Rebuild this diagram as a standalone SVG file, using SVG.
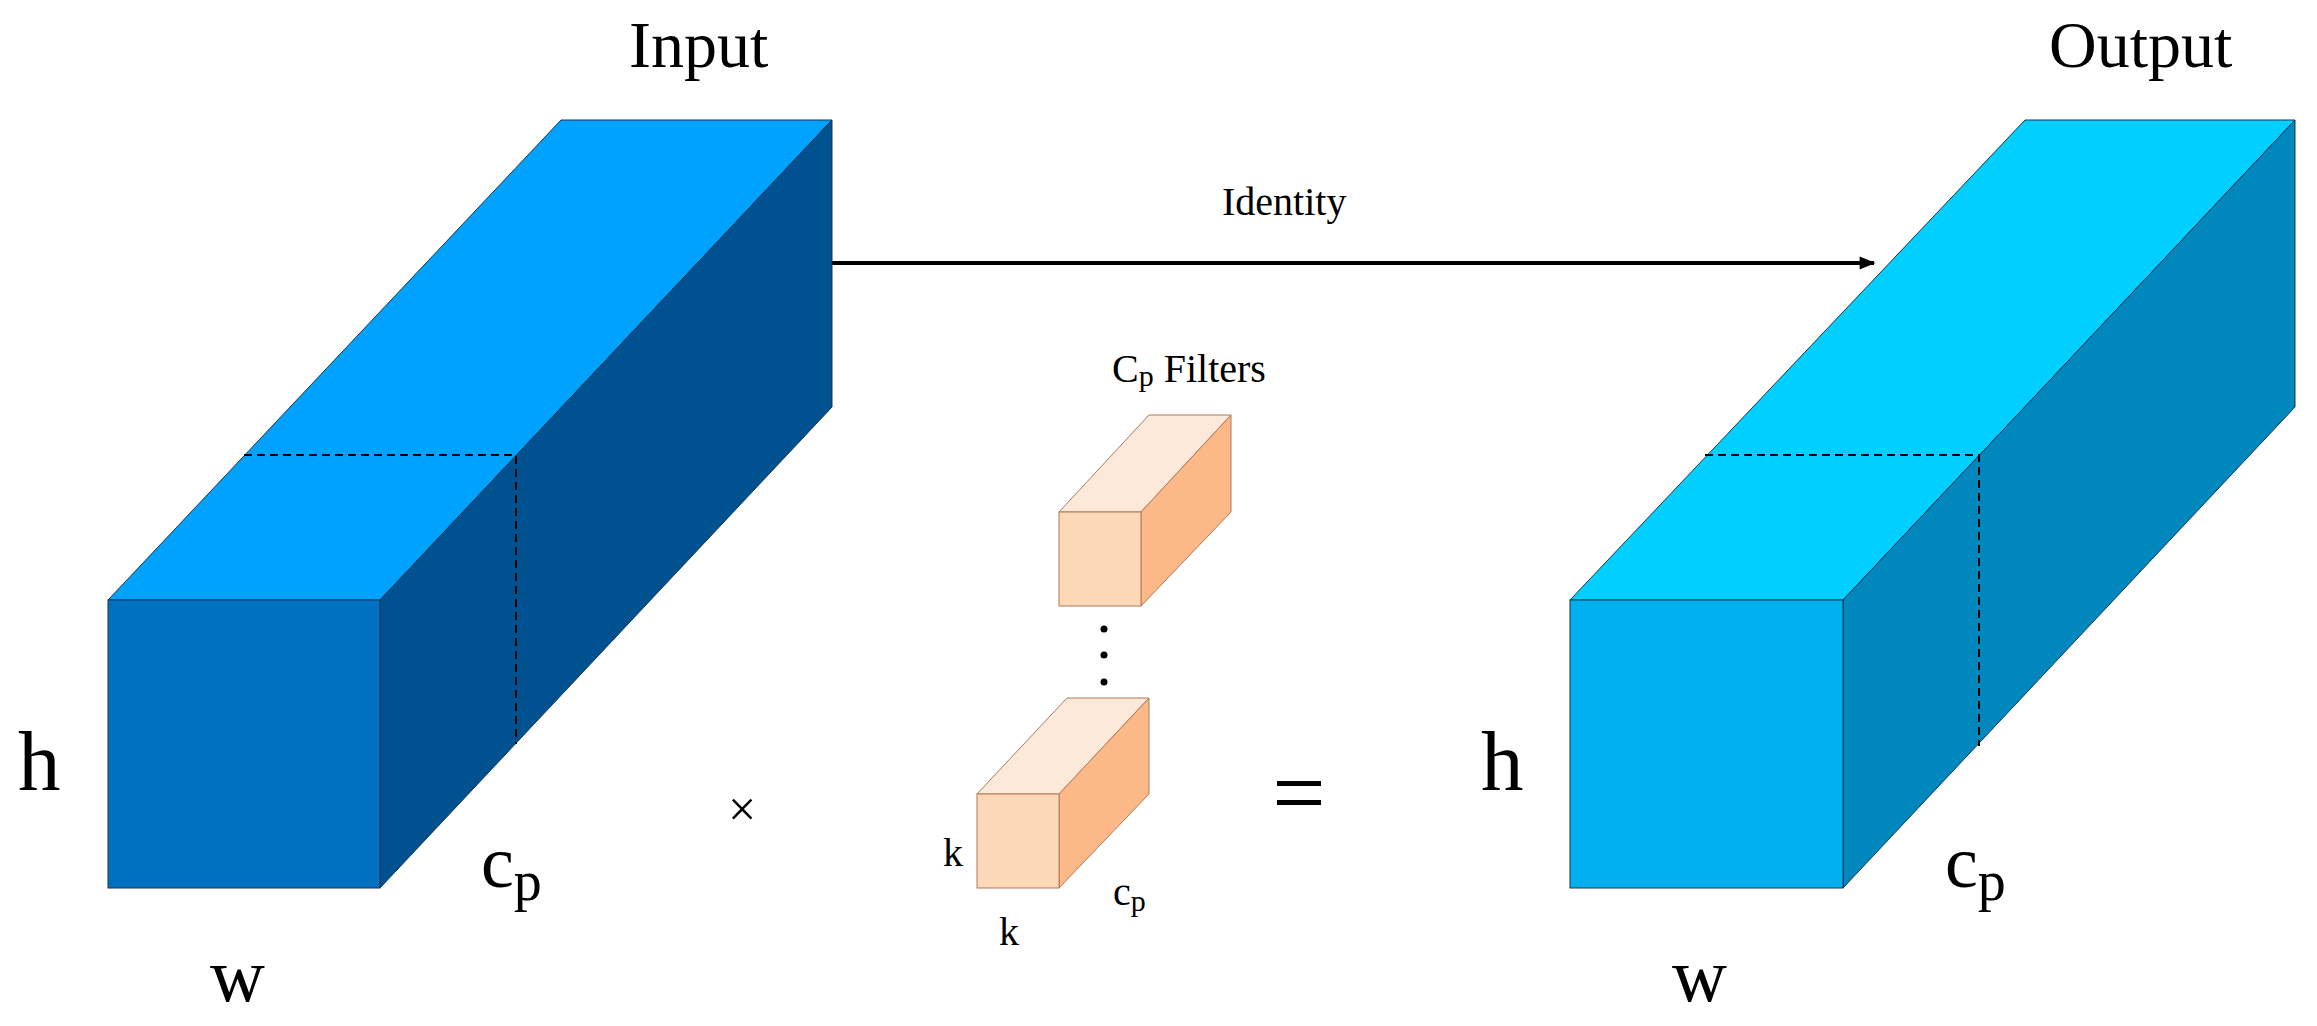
<svg xmlns="http://www.w3.org/2000/svg" width="2317" height="1026" viewBox="0 0 2317 1026">
<defs>
<style>
text{font-family:"Liberation Serif","Times New Roman",serif;fill:#000}
.edge{stroke:#1a3550;stroke-width:1}
.dash{fill:none;stroke:#000;stroke-width:2;stroke-dasharray:8 5}
.ft{fill:#FDE9DA;stroke:#b07a5a;stroke-width:1}
.ff{fill:#FDD8B8;stroke:#b07a5a;stroke-width:1}
.fr{fill:#FDB888;stroke:#b07a5a;stroke-width:1}
</style>
<marker id="ah" viewBox="0 0 10 10" refX="9" refY="5" markerWidth="6" markerHeight="4" orient="auto" markerUnits="strokeWidth"><path d="M0,1 L10,5 L0,9 Z" fill="#000"/></marker>
</defs>
<rect width="2317" height="1026" fill="#fff"/>
<g id="input">
<polygon points="108,600 561,120 832,120 380,600" fill="#00A2FF" class="edge"/>
<polygon points="380,600 832,120 832,407 380,888" fill="#00518F" class="edge"/>
<rect x="108" y="600" width="272" height="288" fill="#0070C0" class="edge"/>
<polyline points="244,455 516,455 516,744" class="dash"/>
<text x="629" y="67" font-size="66">Input</text>
<text x="18" y="790" font-size="85">h</text>
<text x="210" y="1001" font-size="76">w</text>
<text x="481" y="887" font-size="74">c<tspan font-size="56" dy="13">p</tspan></text>
</g>
<g id="output">
<polygon points="1570,600 2025,120 2295,120 1843,600" fill="#00CFFF" class="edge"/>
<polygon points="1843,600 2295,120 2295,407 1843,888" fill="#0088BE" class="edge"/>
<rect x="1570" y="600" width="273" height="288" fill="#00B0F0" class="edge"/>
<polyline points="1705,455 1979,455 1979,746" class="dash"/>
<text x="2049" y="67" font-size="66">Output</text>
<text x="1481" y="790" font-size="85">h</text>
<text x="1672" y="1001" font-size="76">w</text>
<text x="1945" y="887" font-size="74">c<tspan font-size="56" dy="13">p</tspan></text>
</g>
<g id="filter1">
<polygon points="1059,512 1149,415 1231,415 1141,512" class="ft"/>
<polygon points="1141,512 1231,415 1231,512 1141,606" class="fr"/>
<rect x="1059" y="512" width="82" height="94" class="ff"/>
<text x="1112" y="382" font-size="40">C<tspan font-size="30" dy="4">p</tspan><tspan dy="-4"> Filters</tspan></text>
</g>
<g id="dots">
<circle cx="1104" cy="629" r="3.5"/>
<circle cx="1104" cy="655" r="3.5"/>
<circle cx="1104" cy="682" r="3.5"/>
</g>
<g id="filter2">
<polygon points="977,794 1067,698 1149,698 1059,794" class="ft"/>
<polygon points="1059,794 1149,698 1149,794 1059,888" class="fr"/>
<rect x="977" y="794" width="82" height="94" class="ff"/>
<text x="943" y="866" font-size="40">k</text>
<text x="999" y="945" font-size="40">k</text>
<text x="1113" y="905" font-size="40">c<tspan font-size="30" dy="6">p</tspan></text>
</g>
<g id="ops">
<text x="742" y="826" font-size="50" text-anchor="middle">×</text>
<rect x="1277" y="781" width="44" height="5"/>
<rect x="1277" y="800" width="44" height="5"/>
</g>
<g id="connectors">
<line x1="832" y1="263" x2="1874" y2="263" stroke="#000" stroke-width="4" marker-end="url(#ah)"/>
<text x="1222" y="215" font-size="40">Identity</text>
</g>
</svg>
